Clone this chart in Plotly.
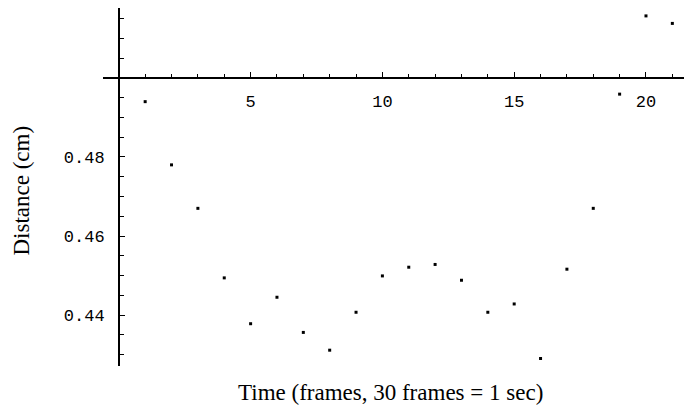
import plotly.graph_objects as go

# frame number vs measured distance
frames = list(range(1, 22))
distance = [0.4940, 0.4780, 0.4670, 0.4494, 0.4378, 0.4445, 0.4356, 0.4311,
            0.4407, 0.4499, 0.4521, 0.4528, 0.4488, 0.4407, 0.4428, 0.4290,
            0.4516, 0.4670, 0.4959, 0.5157, 0.5138]

x_ticks = [5, 10, 15, 20]
y_ticks = [0.44, 0.46, 0.48]
y_tick_text = ["0.44", "0.46", "0.48"]

x_range = [-0.6, 21.67]
y_range = [0.4271, 0.5177]
x_origin, y_origin = 0, 0.5

fig = go.Figure(go.Scatter(
    x=frames, y=distance, mode="markers",
    marker=dict(symbol="square", size=3, color="black"),
    showlegend=False,
))

mono = dict(family="Liberation Mono", size=17, color="black")
serif = dict(family="Liberation Serif", size=23, color="black")

# page body adds an 8px offset, so margins are shifted to compensate
fig.update_layout(
    width=692, height=409,
    margin=dict(l=95, r=10, t=0, b=51, autoexpand=False),
    plot_bgcolor="white", paper_bgcolor="white",
    xaxis=dict(
        range=x_range, anchor="free", automargin=False,
        position=(y_origin - y_range[0]) / (y_range[1] - y_range[0]),
        showgrid=False, zeroline=False,
        showline=True, linecolor="black", linewidth=1.5,
        tickmode="array", tickvals=x_ticks,
        ticks="inside", ticklen=5, tickwidth=1, tickcolor="black",
        tickfont=mono, ticklabelstandoff=8,
        minor=dict(tickmode="linear", tick0=0, dtick=1, ticks="inside",
                   ticklen=3, tickwidth=1, tickcolor="black", showgrid=False),
    ),
    yaxis=dict(
        range=y_range, anchor="free", automargin=False,
        position=(x_origin - x_range[0]) / (x_range[1] - x_range[0]),
        showgrid=False, zeroline=False,
        showline=True, linecolor="black", linewidth=1.5,
        tickmode="array", tickvals=y_ticks, ticktext=y_tick_text,
        ticks="inside", ticklen=5, tickwidth=1, tickcolor="black",
        tickfont=mono, ticklabelstandoff=10,
        minor=dict(tickmode="linear", tick0=0, dtick=0.005, ticks="inside",
                   ticklen=4, tickwidth=1, tickcolor="black", showgrid=False),
    ),
    annotations=[
        dict(text="Time (frames, 30 frames = 1 sec)", font=serif,
             xref="paper", yref="paper", x=0.49, y=-0.075,
             xanchor="center", yanchor="middle", showarrow=False),
        dict(text="Distance (cm)", font=serif, textangle=-90,
             xref="paper", yref="paper", x=-0.138, y=0.49,
             xanchor="center", yanchor="middle", showarrow=False),
    ],
)

fig.write_html("out.html")
